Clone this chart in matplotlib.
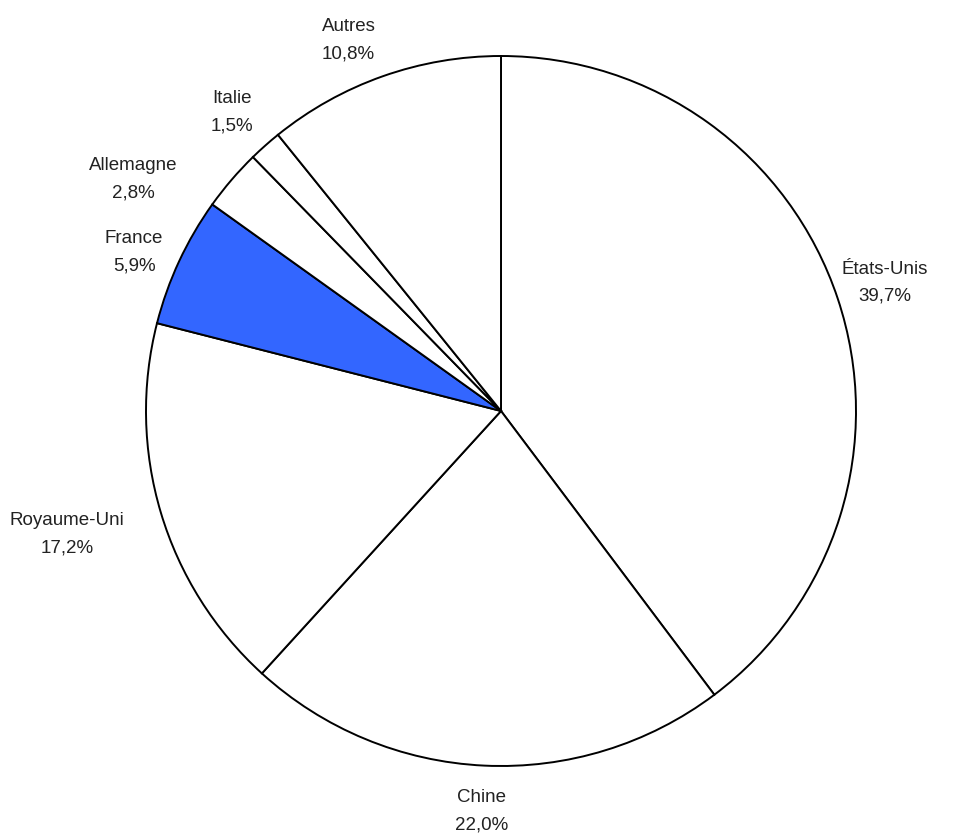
import numpy as np
import matplotlib.pyplot as plt

# parts (%) - clockwise from the top
pays = ['États-Unis', 'Chine', 'Royaume-Uni', 'France', 'Allemagne', 'Italie', 'Autres']
parts = [39.7, 22.0, 17.2, 5.9, 2.8, 1.5, 10.8]
etiquettes = ['39,7%', '22,0%', '17,2%', '5,9%', '2,8%', '1,5%', '10,8%']
couleurs = ['white', 'white', 'white', '#3366ff', 'white', 'white', 'white']

plt.rcParams['font.family'] = ['Liberation Sans', 'DejaVu Sans']

fig = plt.figure(figsize=(9.59, 8.34), dpi=100)
ax = fig.add_axes([0, 0, 1, 1])

wedges, _ = ax.pie(parts, colors=couleurs, startangle=90, counterclock=False,
                   radius=1, wedgeprops={'edgecolor': 'black', 'linewidth': 1.4})

# petits décalages pour les étiquettes (x, y)
decalage = {'Royaume-Uni': (-0.13, -0.02), 'Allemagne': (-0.17, -0.09),
            'Autres': (-0.05, -0.03), 'France': (0, -0.035), 'Chine': (0, 0.01),
            'Italie': (0, -0.01)}

for w, nom, lab in zip(wedges, pays, etiquettes):
    ang = np.deg2rad((w.theta1 + w.theta2) / 2)
    dx, dy = decalage.get(nom, (0, 0))
    x = 1.14 * np.cos(ang) + dx
    y = 1.14 * np.sin(ang) + dy
    ax.text(x, y, nom + '\n' + lab, ha='center', va='center',
            fontsize=13.5, linespacing=1.8, color='#222222')

ax.set_xlim(-501 / 355, 458 / 355)
ax.set_ylim(-423 / 355, 411 / 355)
ax.set_aspect('equal')
ax.axis('off')

fig.savefig('out.png', dpi=100)
